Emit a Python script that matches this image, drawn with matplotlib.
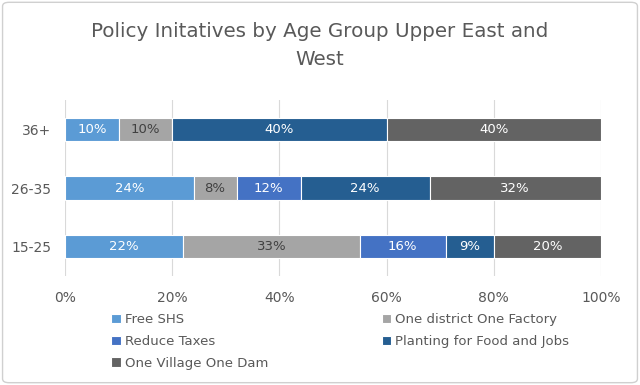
import matplotlib.pyplot as plt
from matplotlib.patches import FancyBboxPatch

# data
groups = ["15-25", "26-35", "36+"]
series = ["Free SHS", "One district One Factory", "Reduce Taxes",
          "Planting for Food and Jobs", "One Village One Dam"]
free_shs = [22, 24, 10]
one_district = [33, 8, 10]
reduce_taxes = [16, 12, 0]
planting = [9, 24, 40]
village_dam = [20, 32, 40]
xticks = [0, 20, 40, 60, 80, 100]

colors = ["#5B9BD5", "#A5A5A5", "#4472C4", "#255E91", "#636363"]
label_colors = ["white", "#404040", "white", "white", "white"]

plt.rcParams['font.family'] = ['DejaVu Sans']
fig = plt.figure(figsize=(6.4, 3.85), dpi=100)
ax = fig.add_axes([0.1016, 0.283, 0.8375, 0.457])

values = [free_shs, one_district, reduce_taxes, planting, village_dam]
left = [0, 0, 0]
handles = []
for name, vals, c, tc in zip(series, values, colors, label_colors):
    bars = ax.barh(groups, vals, left=left, height=0.4, color=c,
                   edgecolor="white", linewidth=0.8, label=name, zorder=2)
    handles.append(bars)
    for b, v in zip(bars, vals):
        if v > 0:
            ax.text(b.get_x() + b.get_width() / 2, b.get_y() + b.get_height() / 2,
                    "%d%%" % v, ha="center", va="center", color=tc, fontsize=9.5)
    left = [l + v for l, v in zip(left, vals)]

ax.set_xlim(0, 100)
ax.set_ylim(-0.5, 2.5)
ax.set_xticks(xticks)
ax.set_xticklabels(["%d%%" % t for t in xticks])
ax.grid(axis="x", color="#D9D9D9", linewidth=0.8, zorder=0)
for s in ax.spines.values():
    s.set_visible(False)
ax.tick_params(length=0, colors="#595959", labelsize=10)
ax.tick_params(axis="x", pad=11)
ax.tick_params(axis="y", pad=10)

fig.suptitle("Policy Initatives by Age Group Upper East and\nWest",
             y=0.943, fontsize=14.3, color="#595959", linespacing=1.6)

order = [0, 2, 4, 1, 3]
leg = fig.legend([handles[i] for i in order], [series[i] for i in order],
                 ncol=2, loc="upper left", bbox_to_anchor=(0.174, 0.186),
                 frameon=False, fontsize=9.5, handlelength=0.7, handleheight=0.7,
                 handletextpad=0.3, columnspacing=8.65, labelspacing=0.65,
                 borderaxespad=0, borderpad=0)
for t in leg.get_texts():
    t.set_color("#595959")

border = FancyBboxPatch((0.004, 0.006), 0.992, 0.988, boxstyle="round,pad=0,rounding_size=0.01",
                        transform=fig.transFigure, fill=False, edgecolor="#D0D0D0", linewidth=1)
fig.patches.append(border)

fig.savefig("out.png", dpi=100)
